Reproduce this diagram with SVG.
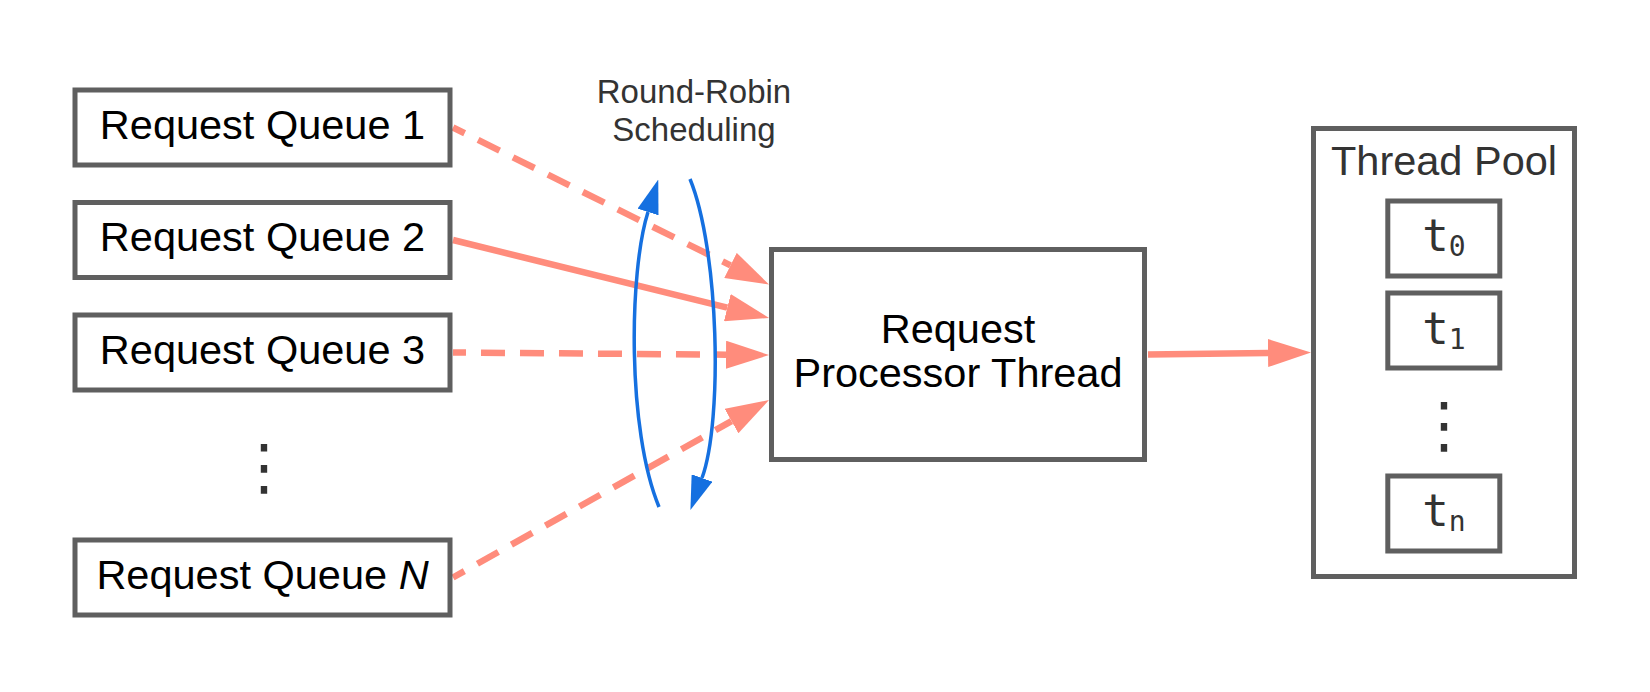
<svg xmlns="http://www.w3.org/2000/svg" width="1650" height="692" viewBox="0 0 1650 692">
<style>
.box{fill:#fff;stroke:#5f5f5f;stroke-width:5}
.lbl{font-family:"Liberation Sans",Arial,sans-serif;font-size:41.5px;fill:#000;text-anchor:middle}
.gray{fill:#333}
.mono{font-family:"DejaVu Sans Mono","Liberation Mono",monospace;font-size:44px;fill:#333;text-anchor:middle}
.dots{font-family:"DejaVu Sans",sans-serif;font-size:62px;fill:#333;text-anchor:middle}
.conn{fill:none;stroke:#ff8c7c;stroke-width:6.5}
.dash{stroke-dasharray:24 15;stroke-dashoffset:11}
.rr{fill:none;stroke:#1570e0;stroke-width:3.5}
</style>
<defs>
<marker id="ah" viewBox="0 -14 43 28" markerWidth="43" markerHeight="28" refX="0" refY="0" orient="auto" markerUnits="userSpaceOnUse">
<path d="M0,-14 L43,0 L0,14 z" fill="#ff8c7c"/>
</marker>
<marker id="bh" viewBox="0 -11 34 22" markerWidth="34" markerHeight="22" refX="0" refY="0" orient="auto" markerUnits="userSpaceOnUse">
<path d="M0,-11 L34,0 L0,11 z" fill="#1570e0"/>
</marker>
</defs>
<rect width="1650" height="692" fill="#fff"/>

<g id="connectors">
<path class="conn dash" d="M453,127.5 L730.5,265.4" marker-end="url(#ah)"/>
<path class="conn" d="M453,240 L727.3,307.7" marker-end="url(#ah)"/>
<path class="conn dash" d="M453,352.5 L726,354.7" marker-end="url(#ah)"/>
<path class="conn dash" d="M453,577.5 L731.5,421.1" marker-end="url(#ah)"/>
<path class="conn" d="M1148,354.5 L1268,353" marker-end="url(#ah)"/>
<path class="rr" d="M659,507 C627,430 629,272 648,212" marker-end="url(#bh)"/>
<path class="rr" d="M690,179 C719,250 723,420 702,478" marker-end="url(#bh)"/>
</g>

<g id="queue1">
<rect class="box" x="75" y="90" width="375" height="75"/>
<text class="lbl" x="262.5" y="138.5">Request Queue 1</text>
</g>
<g id="queue2">
<rect class="box" x="75" y="202.5" width="375" height="75"/>
<text class="lbl" x="262.5" y="251">Request Queue 2</text>
</g>
<g id="queue3">
<rect class="box" x="75" y="315" width="375" height="75"/>
<text class="lbl" x="262.5" y="363.5">Request Queue 3</text>
</g>
<g id="queue-dots">
<text class="dots" x="264" y="488">⋮</text>
</g>
<g id="queueN">
<rect class="box" x="75" y="540" width="375" height="75"/>
<text class="lbl" x="262.5" y="588.5">Request Queue <tspan font-style="italic">N</tspan></text>
</g>

<g id="rr-label">
<text class="lbl gray" x="694" y="103" style="font-size:33px">Round-Robin</text>
<text class="lbl gray" x="694" y="141" style="font-size:33px">Scheduling</text>
</g>

<g id="processor">
<rect class="box" x="771.5" y="249.5" width="373" height="210"/>
<text class="lbl" x="958" y="342.5">Request</text>
<text class="lbl" x="958" y="386.5">Processor Thread</text>
</g>

<g id="thread-pool">
<rect class="box" x="1313.5" y="128.5" width="261" height="448"/>
<text class="lbl gray" x="1444" y="175">Thread Pool</text>
</g>
<g id="t0">
<rect class="box" x="1387.8" y="201" width="112" height="75"/>
<text class="mono" x="1444" y="251">t<tspan font-size="28" dy="5">0</tspan></text>
</g>
<g id="t1">
<rect class="box" x="1387.8" y="293" width="112" height="75"/>
<text class="mono" x="1444" y="343.5">t<tspan font-size="28" dy="5">1</tspan></text>
</g>
<g id="pool-dots">
<text class="dots" x="1444" y="446">⋮</text>
</g>
<g id="tn">
<rect class="box" x="1387.8" y="476" width="112" height="75"/>
<text class="mono" x="1444" y="526">t<tspan font-size="28" dy="5">n</tspan></text>
</g>
</svg>
